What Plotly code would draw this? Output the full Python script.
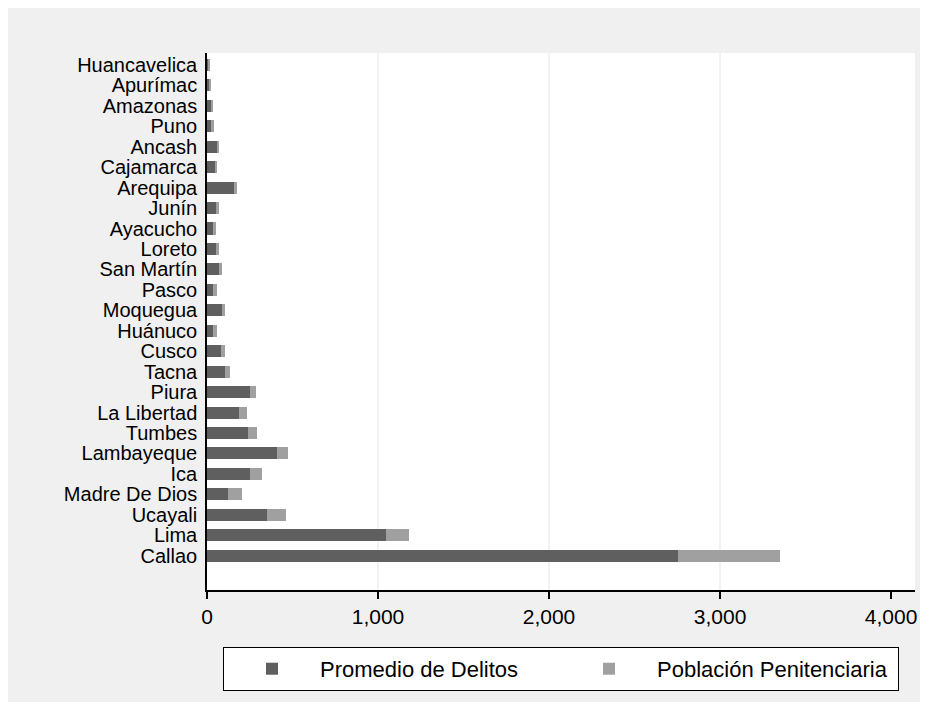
import plotly.graph_objects as go

regions = ["Huancavelica", "Apurímac", "Amazonas", "Puno", "Ancash", "Cajamarca",
           "Arequipa", "Junín", "Ayacucho", "Loreto", "San Martín", "Pasco",
           "Moquegua", "Huánuco", "Cusco", "Tacna", "Piura", "La Libertad",
           "Tumbes", "Lambayeque", "Ica", "Madre De Dios", "Ucayali", "Lima", "Callao"]

promedio_delitos = [8, 17, 25, 25, 60, 44, 159, 52, 33, 52, 72, 33, 89, 33, 79,
                    107, 250, 188, 240, 411, 250, 124, 349, 1048, 2753]

poblacion_penitenciaria = [6, 8, 8, 17, 10, 14, 17, 18, 17, 18, 15, 25, 16, 25, 26,
                           25, 35, 43, 53, 62, 72, 79, 114, 132, 596]

tick_vals = [0, 1000, 2000, 3000, 4000]
tick_text = ["0", "1,000", "2,000", "3,000", "4,000"]

FONT = "Liberation Sans, Arial, sans-serif"
DARK = "#5f5f5f"
LIGHT = "#a0a0a0"

fig = go.Figure()
fig.add_trace(go.Bar(y=regions, x=promedio_delitos, orientation="h",
                     name="Promedio de Delitos", marker=dict(color=DARK, line=dict(width=0))))
fig.add_trace(go.Bar(y=regions, x=poblacion_penitenciaria, orientation="h",
                     name="Población Penitenciaria", marker=dict(color=LIGHT, line=dict(width=0))))

shapes = []
for v in tick_vals[1:-1]:
    shapes.append(dict(type="line", xref="x", yref="paper", x0=v, x1=v, y0=0, y1=1,
                       line=dict(color="#e6e6e6", width=1), layer="below"))

fig.update_layout(
    barmode="stack",
    bargap=0.41,
    width=920, height=694,
    margin=dict(l=199, r=11, t=45, b=109),
    paper_bgcolor="#f0f0f0",
    plot_bgcolor="white",
    font=dict(family=FONT, color="black", size=21),
    shapes=shapes,
    showlegend=True,
    legend=dict(orientation="h", x=0.5, xanchor="center", y=-0.106, yanchor="top",
                bgcolor="white", bordercolor="black", borderwidth=1,
                font=dict(family=FONT, size=22, color="black"),
                entrywidth=236, itemwidth=86, traceorder="normal"),
    xaxis=dict(range=[0, 4140], tickmode="array", tickvals=tick_vals, ticktext=tick_text,
               showgrid=False, zeroline=False, showline=True, linecolor="black", linewidth=1.5,
               ticks="outside", ticklen=7, tickwidth=1.5, tickcolor="black",
               tickfont=dict(family=FONT, size=21, color="black")),
    yaxis=dict(type="category", categoryorder="array", categoryarray=regions,
               tickmode="array", tickvals=regions, ticktext=regions,
               range=[25.68, -0.585], showgrid=False, zeroline=False,
               showline=True, linecolor="black", linewidth=1.5, ticks="",
               ticklabelstandoff=4,
               tickfont=dict(family=FONT, size=20, color="black")),
)

fig.write_html("out.html")
